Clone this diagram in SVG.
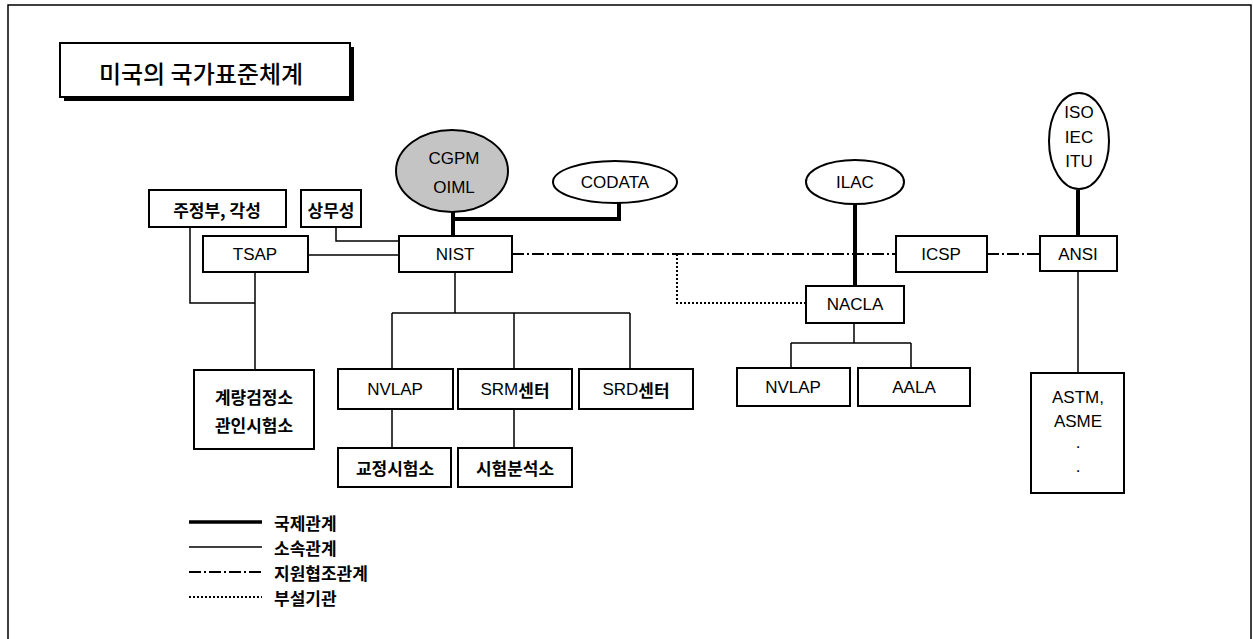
<svg xmlns="http://www.w3.org/2000/svg" width="1253" height="639" viewBox="0 0 1253 639">
<defs>
<style>
.bx{fill:#fff;stroke:#000;stroke-width:2}
.el{fill:#fff;stroke:#000;stroke-width:2}
.t{font-family:"Liberation Sans","Noto Sans CJK KR",sans-serif;font-size:17px;fill:#000;text-anchor:middle;dominant-baseline:central}
.k{font-family:"Noto Sans CJK KR","Liberation Sans",sans-serif;font-weight:bold;font-size:17px;fill:#000;text-anchor:middle;dominant-baseline:central}
.lg{font-family:"Noto Sans CJK KR","Liberation Sans",sans-serif;font-weight:bold;font-size:17px;fill:#000;dominant-baseline:central}
.thick{stroke:#000;stroke-width:4;fill:none}
.thin{stroke:#000;stroke-width:1.5;fill:none}
.dd{stroke:#000;stroke-width:2;fill:none;stroke-dasharray:12 3 2 3}
.dot{stroke:#000;stroke-width:2;fill:none;stroke-dasharray:2 2}
</style>
</defs>
<rect width="1253" height="639" fill="#fff"/>
<rect x="8" y="5" width="1243" height="660" fill="none" stroke="#000" stroke-width="1.5"/>
<g id="title">
<rect x="64" y="47" width="290" height="54" fill="#000"/>
<rect x="60" y="43" width="290" height="54" class="bx"/>
<text x="201" y="72" class="k" style="font-size:24px;font-weight:500">미국의 국가표준체계</text>
</g>
<g id="connectors">
<path class="thick" d="M453 212V235M453 219H619V201"/>
<path class="thick" d="M855 204V286"/>
<path class="thick" d="M1078 190V236"/>
<path class="thin" d="M336 227V241H399"/>
<path class="thin" d="M308 255H399"/>
<path class="thin" d="M190 227V303H255M255 272V370"/>
<path class="thin" d="M455 272V313M392 313H630M392 313V369M514 313V369M630 313V369"/>
<path class="thin" d="M392 409V448M514 409V448"/>
<path class="thin" d="M854 323V343M791 343H911M791 343V368M911 343V368"/>
<path class="thin" d="M1078 271V373"/>
<path class="dd" d="M512 254H896M987 254H1039"/>
<path class="dot" d="M677 254V303H806"/>
</g>
<g id="cgpm"><ellipse cx="452" cy="171" rx="56" ry="41" fill="#c4c4c4" stroke="#000" stroke-width="2"/><text x="454" y="158" class="t">CGPM</text><text x="454" y="187" class="t">OIML</text></g>
<g id="codata"><ellipse cx="615" cy="182" rx="62" ry="21" class="el"/><text x="615" y="182" class="t">CODATA</text></g>
<g id="ilac"><ellipse cx="855" cy="182" rx="49" ry="22" class="el"/><text x="855" y="182" class="t">ILAC</text></g>
<g id="iso"><ellipse cx="1079" cy="141" rx="30" ry="48" class="el"/><text x="1079" y="112" class="t">ISO</text><text x="1079" y="137" class="t">IEC</text><text x="1079" y="161" class="t">ITU</text></g>
<g id="jujeongbu"><rect x="149" y="190" width="137" height="37" class="bx"/><text x="217" y="209" class="k">주정부, 각성</text></g>
<g id="sangmuseong"><rect x="301" y="190" width="60" height="37" class="bx"/><text x="331" y="209" class="k">상무성</text></g>
<g id="tsap"><rect x="203" y="236" width="105" height="36" class="bx"/><text x="255" y="254" class="t">TSAP</text></g>
<g id="nist"><rect x="399" y="236" width="113" height="36" class="bx"/><text x="455" y="254" class="t">NIST</text></g>
<g id="icsp"><rect x="896" y="236" width="91" height="36" class="bx"/><text x="941" y="254" class="t">ICSP</text></g>
<g id="ansi"><rect x="1040" y="236" width="77" height="35" class="bx"/><text x="1078" y="254" class="t">ANSI</text></g>
<g id="nacla"><rect x="806" y="286" width="98" height="37" class="bx"/><text x="855" y="304" class="t">NACLA</text></g>
<g id="nvlap2"><rect x="737" y="368" width="113" height="38" class="bx"/><text x="793" y="387" class="t">NVLAP</text></g>
<g id="aala"><rect x="858" y="368" width="112" height="38" class="bx"/><text x="914" y="387" class="t">AALA</text></g>
<g id="gyeryang"><rect x="194" y="370" width="120" height="79" class="bx"/><text x="254" y="396" class="k">계량검정소</text><text x="254" y="424" class="k">관인시험소</text></g>
<g id="nvlap"><rect x="338" y="369" width="115" height="40" class="bx"/><text x="395" y="389" class="t">NVLAP</text></g>
<g id="srm"><rect x="458" y="369" width="114" height="40" class="bx"/><text x="515" y="389" class="k"><tspan style="font-family:'Liberation Sans',sans-serif;font-weight:normal">SRM</tspan>센터</text></g>
<g id="srd"><rect x="579" y="369" width="114" height="40" class="bx"/><text x="636" y="389" class="k"><tspan style="font-family:'Liberation Sans',sans-serif;font-weight:normal">SRD</tspan>센터</text></g>
<g id="gyojeong"><rect x="338" y="448" width="113" height="39" class="bx"/><text x="395" y="467" class="k">교정시험소</text></g>
<g id="siheom"><rect x="458" y="448" width="114" height="39" class="bx"/><text x="515" y="467" class="k">시험분석소</text></g>
<g id="astm"><rect x="1031" y="373" width="93" height="120" class="bx"/><text x="1078" y="397" class="t">ASTM,</text><text x="1078" y="421" class="t">ASME</text><text x="1078" y="442" class="t">.</text><text x="1078" y="466" class="t">.</text></g>
<g id="legend">
<path class="thick" d="M189 522H262" style="stroke-width:3.5"/>
<path class="thin" d="M189 547H262"/>
<path class="dd" d="M189 572H262"/>
<path class="dot" d="M189 597H262"/>
<text x="274" y="522" class="lg">국제관계</text>
<text x="274" y="547" class="lg">소속관계</text>
<text x="274" y="572" class="lg">지원협조관계</text>
<text x="274" y="597" class="lg">부설기관</text>
</g>
</svg>
